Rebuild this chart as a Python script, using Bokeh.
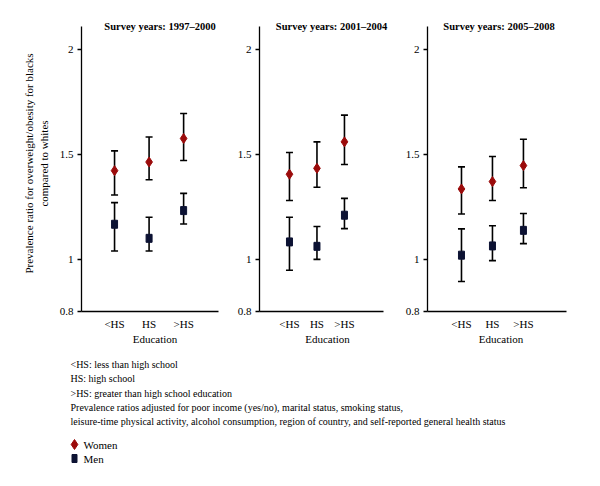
from bokeh.plotting import figure
from bokeh.models import ColumnDataSource, Whisker, TeeHead, FixedTicker, Range1d, Label
from bokeh.layouts import row, column
from bokeh.embed import file_html
from bokeh.resources import INLINE
from bokeh.core.properties import value

# ---- data ----
education = ["<HS", "HS", ">HS"]
periods = ["Survey years: 1997\u20132000", "Survey years: 2001\u20132004", "Survey years: 2005\u20132008"]

women_mid = [[1.422, 1.463, 1.575], [1.405, 1.433, 1.559], [1.335, 1.370, 1.446]]
women_lo = [[1.306, 1.379, 1.470], [1.280, 1.343, 1.451], [1.216, 1.280, 1.341]]
women_hi = [[1.516, 1.582, 1.694], [1.508, 1.559, 1.686], [1.440, 1.489, 1.571]]

men_mid = [[1.167, 1.100, 1.232], [1.083, 1.062, 1.210], [1.020, 1.064, 1.138]]
men_lo = [[1.040, 1.040, 1.168], [0.948, 1.000, 1.146], [0.895, 0.994, 1.075]]
men_hi = [[1.270, 1.200, 1.314], [1.200, 1.156, 1.290], [1.145, 1.160, 1.218]]

y_start, y_axis_top, y_end = 0.752, 2.11, 2.16
y_tick_values = [y_start, 1, 1.5, 2]
y_tick_labels = ["0.8", "1", "1.5", "2"]

notes = [
    "<HS: less than high school",
    "HS: high school",
    ">HS: greater than high school education",
    "Prevalence ratios adjusted for poor income (yes/no), marital status, smoking status,",
    " leisure-time physical activity, alcohol consumption, region of country, and self-reported general health status",
]
legend_labels = ["Women", "Men"]

# ---- style ----
FONT = "Liberation Serif"
RED = "#9b0b0b"
NAVY = "#0c1233"

x_axis_ranges = [(0.043, 4.01), (-0.09, 4.42), (-0.097, 4.39)]
axis_w = [137, 124, 139]       # pixel length of each x axis line
extra_w = [10, 12, 8]          # room to the right of the axis, for the titles
border_l = [81, 31, 31]
border_r = [0, 1, 2]
title_off = [10, 10, 2]
FRAME_H = 296
TOP = 15
BOTTOM = 40

figs = []
for i in range(3):
    a0, a1 = x_axis_ranges[i]
    scale = axis_w[i] / (a1 - a0)
    x_end = a1 + extra_w[i] / scale
    fw = axis_w[i] + extra_w[i]
    p = figure(width=border_l[i] + fw + border_r[i], height=TOP + FRAME_H + BOTTOM,
               x_range=Range1d(a0, x_end), y_range=Range1d(y_start, y_end),
               output_backend="svg", toolbar_location=None,
               min_border_left=border_l[i], min_border_right=border_r[i],
               min_border_top=TOP, min_border_bottom=BOTTOM)
    p.outline_line_color = None
    p.xgrid.visible = False
    p.ygrid.visible = False
    p.background_fill_color = None
    p.border_fill_color = None

    xs = [1, 2, 3]
    ws = ColumnDataSource(dict(x=xs, y=women_mid[i], lo=women_lo[i], hi=women_hi[i]))
    ms = ColumnDataSource(dict(x=xs, y=men_mid[i], lo=men_lo[i], hi=men_hi[i]))
    for src in (ws, ms):
        w = Whisker(source=src, base="x", upper="hi", lower="lo",
                    line_color="black", line_width=1.6,
                    upper_head=TeeHead(size=7, line_width=1.6, line_color="black"),
                    lower_head=TeeHead(size=7, line_width=1.6, line_color="black"))
        p.add_layout(w)
    p.scatter("x", "y", source=ws, marker="diamond", size=10, fill_color=RED, line_color=RED)
    p.rect("x", "y", source=ms, width=6, height=8, width_units="screen", height_units="screen",
           fill_color=NAVY, line_color=NAVY)

    # y axis
    p.yaxis.bounds = (y_start, y_axis_top)
    p.yaxis.ticker = FixedTicker(ticks=y_tick_values)
    p.yaxis.major_label_overrides = {v: s for v, s in zip(y_tick_values, y_tick_labels)}
    p.yaxis.minor_tick_line_color = None
    p.yaxis.major_tick_in = 0
    p.yaxis.major_tick_out = 4
    p.yaxis.major_label_standoff = 4
    p.yaxis.axis_line_width = 1.3
    p.yaxis.axis_line_color = "black"
    p.yaxis.major_tick_line_width = 1.3
    p.yaxis.major_tick_line_color = "black"
    p.yaxis.major_label_text_font = FONT
    p.yaxis.major_label_text_font_size = "11px"
    p.yaxis.major_label_text_color = "black"
    if i == 0:
        p.yaxis.axis_label = "Prevalence ratio for overweight/obesity for blacks\ncompared to whites"
        p.yaxis.axis_label_text_font = FONT
        p.yaxis.axis_label_text_font_size = "11px"
        p.yaxis.axis_label_text_font_style = "normal"
        p.yaxis.axis_label_text_color = "black"
        p.yaxis.axis_label_standoff = 7

    # x axis
    p.xaxis.bounds = (a0, a1)
    p.xaxis.ticker = FixedTicker(ticks=xs)
    p.xaxis.major_label_overrides = {x: e for x, e in zip(xs, education)}
    p.xaxis.minor_tick_line_color = None
    p.xaxis.major_tick_line_color = None
    p.xaxis.major_tick_in = 0
    p.xaxis.major_tick_out = 0
    p.xaxis.major_label_standoff = 6
    p.xaxis.axis_line_width = 1.3
    p.xaxis.axis_line_color = "black"
    p.xaxis.major_label_text_font = FONT
    p.xaxis.major_label_text_font_size = "11px"
    p.xaxis.major_label_text_color = "black"
    p.xaxis.axis_label = "Education"
    p.xaxis.axis_label_text_font = FONT
    p.xaxis.axis_label_text_font_size = "11px"
    p.xaxis.axis_label_text_font_style = "normal"
    p.xaxis.axis_label_text_color = "black"
    p.xaxis.axis_label_standoff = 0

    mid = (a0 + a1) / 2
    p.add_layout(Label(x=mid, y=y_axis_top, text=periods[i], x_offset=title_off[i],
                       text_align="center", text_baseline="middle",
                       text_font=FONT, text_font_size="10.5px", text_font_style="bold",
                       text_color="black"))
    figs.append(p)

# ---- notes panel ----
NW, NH = 590, 125
q = figure(width=NW, height=NH, x_range=Range1d(0, NW), y_range=Range1d(NH, 0),
           output_backend="svg", toolbar_location=None, min_border=0)
q.axis.visible = False
q.grid.visible = False
q.outline_line_color = None
q.background_fill_color = None
q.border_fill_color = None

y0, step = 13, 14.3
q.text(x=[70] * len(notes), y=[y0 + k * step for k in range(len(notes))], text=notes,
       text_font=value(FONT), text_font_size="10px", text_baseline="middle",
       text_align="left", text_color="black")
q.scatter(x=[74], y=[93], marker="diamond", size=10, fill_color=RED, line_color=RED)
q.rect(x=[74], y=[107], width=5, height=8, width_units="screen", height_units="screen",
       fill_color=NAVY, line_color=NAVY)
q.text(x=[83, 83], y=[93, 107], text=legend_labels,
       text_font=value(FONT), text_font_size="11px", text_baseline="middle",
       text_align="left", text_color="black")

layout = column(row(*figs), q)
open("out.html", "w").write(file_html(layout, INLINE))
